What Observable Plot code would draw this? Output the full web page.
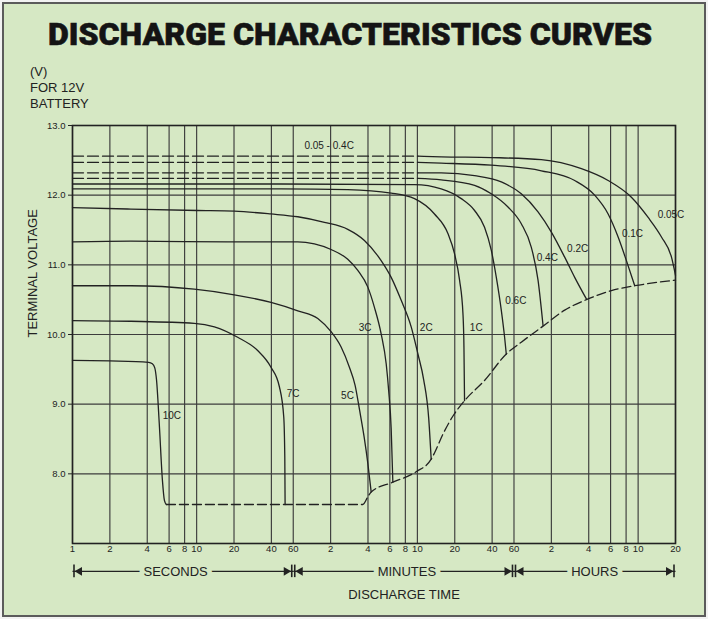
<!DOCTYPE html>
<html><head><meta charset="utf-8">
<script src="https://cdn.jsdelivr.net/npm/d3@7"></script>
<script src="https://cdn.jsdelivr.net/npm/@observablehq/plot@0.6"></script>
<style>
html,body{margin:0;padding:0;background:#fff;}
#page{position:relative;width:708px;height:619px;overflow:hidden;background:#f2f2f2;}
#panel{position:absolute;left:2px;top:2px;width:704px;height:615px;box-sizing:border-box;border:2px solid #5b5b5b;background:#d6e8c4;}
#title{position:absolute;left:0;top:0;}
#vlabel{position:absolute;left:30px;top:64px;font:13px 'Liberation Sans',Arial,sans-serif;color:#222;line-height:16px;}
#chart{position:absolute;left:0;top:112px;}
</style></head><body>
<div id="page">
<div id="panel"></div>
<svg id="title" width="708" height="60"><text x="350" y="45" text-anchor="middle" textLength="604" lengthAdjust="spacingAndGlyphs" font-family="Roboto, 'Liberation Sans', Arial, sans-serif" font-weight="900" font-size="31" fill="#141414" stroke="#141414" stroke-width="0.6">DISCHARGE CHARACTERISTICS CURVES</text></svg>
<div id="vlabel">(V)<br>FOR 12V<br>BATTERY</div>
<div id="chart"></div>
</div>
<script>
// ---- axis ticks ----
const tickTimes = [1,2,4,6,8,10,20,40,60,120,240,360,480,600,1200,2400,3600,7200,14400,21600,28800,36000,72000];
const tickLabels = ["1","2","4","6","8","10","20","40","60","2","4","6","8","10","20","40","60","2","4","6","8","10","20"];
const voltTicks = [8,9,10,11,12,13];
const voltGrid = [8,9,10,11,12];

// ---- discharge curves: time (seconds), terminal voltage (V) ----
const t10C = [1, 2, 4.1, 4.4, 4.6, 4.75, 5.0, 5.3, 5.5, 5.7];
const v10C = [9.63, 9.62, 9.60, 9.58, 9.52, 9.35, 8.72, 7.91, 7.62, 7.56];
const t7C = [1, 2.95, 9.56, 13.9, 21.4, 31.0, 39.7, 46.4, 50.3, 51.3, 51.5, 51.6];
const v7C = [10.20, 10.19, 10.16, 10.11, 9.96, 9.77, 9.53, 9.25, 8.82, 8.24, 7.76, 7.56];
const t5C = [1, 2.95, 9.56, 20.1, 39.7, 65.3, 94.6, 121, 145.8, 170, 189, 205.6, 223.4, 239.3, 254.6];
const v5C = [10.70, 10.70, 10.65, 10.57, 10.46, 10.34, 10.23, 10.04, 9.82, 9.53, 9.27, 8.91, 8.53, 8.15, 7.74];
const t3C = [1, 2.95, 18.9, 65.3, 88.8, 121, 165, 198.8, 239.3, 270.5, 306.4, 336.4, 352, 369, 380.7];
const v3C = [11.33, 11.34, 11.33, 11.33, 11.30, 11.22, 11.08, 10.92, 10.68, 10.39, 10.01, 9.58, 9.20, 8.65, 7.88];
const t2C = [1, 2.95, 10.2, 20.1, 39.7, 65.3, 107, 165, 224.7, 306.4, 369, 444.4, 535, 606, 674.5, 740, 775];
const v2C = [11.82, 11.80, 11.78, 11.77, 11.73, 11.69, 11.61, 11.51, 11.35, 11.06, 10.82, 10.49, 10.11, 9.72, 9.35, 8.80, 8.21];
const t1C = [1, 47.9, 165, 369, 568.8, 824, 1057, 1195, 1312, 1397, 1423, 1439];
const v1C = [12.09, 12.09, 12.08, 12.03, 11.95, 11.73, 11.45, 11.16, 10.78, 10.30, 9.82, 9.05];
const t06C = [1, 47.9, 568.8, 933, 1353, 1733, 2085, 2362, 2594, 2844, 3025, 3121];
const v06C = [12.16, 12.16, 12.15, 12.09, 11.95, 11.78, 11.54, 11.21, 10.82, 10.35, 9.96, 9.72];
const t04C = [1, 606, 933, 1733, 2362, 3221, 4123, 4966, 5623, 6170];
const v04C = [12.24, 12.24, 12.22, 12.14, 12.02, 11.83, 11.59, 11.25, 10.78, 10.13];
const t02C = [1, 606, 933, 1733, 2844, 4123, 5623, 7200, 9220, 11100, 13790];
const v02C = [12.32, 12.32, 12.32, 12.28, 12.19, 12.02, 11.76, 11.47, 11.11, 10.82, 10.51];
const t01C = [1, 606, 933, 2362, 5980, 11100, 16080, 20640, 24840, 28970, 33810];
const v01C = [12.47, 12.47, 12.46, 12.43, 12.35, 12.21, 12.00, 11.73, 11.40, 11.06, 10.70];
const t005C = [1, 606, 933, 2362, 5980, 12570, 20640, 31770, 43350, 55500, 66830, 72000];
const v005C = [12.56, 12.56, 12.55, 12.54, 12.51, 12.38, 12.21, 11.97, 11.68, 11.40, 11.11, 10.85];
// end-of-discharge voltage (dashed)
const tEnd = [5.71, 50, 200, 218, 239.3, 254.6, 380.7, 587, 775, 824, 964, 1161, 1439, 2085, 3121, 4123, 6170, 9220, 13790, 21940, 33810, 52220, 72000];
const vEnd = [7.56, 7.56, 7.56, 7.56, 7.67, 7.74, 7.88, 8.03, 8.21, 8.30, 8.57, 8.83, 9.05, 9.34, 9.72, 9.89, 10.12, 10.35, 10.50, 10.63, 10.70, 10.75, 10.78];
// times up to which the low-rate curves are drawn dashed
const dashedUntil = 606;
const dashedRates = ["0.4C","0.2C","0.1C","0.05C"];

// ---- curve labels ----
const labelText = ["0.05 - 0.4C","0.05C","0.1C","0.2C","0.4C","0.6C","1C","2C","3C","5C","7C","10C"];
const labelTime = [116.7, 66220, 32400, 11730, 6683, 3724, 1788, 707, 227.7, 164, 59.8, 6.32];
const labelVolt = [12.71, 11.72, 11.44, 11.23, 11.10, 10.49, 10.10, 10.10, 10.10, 9.12, 9.15, 8.84];

// ---- time-unit bands under the axis ----
const unitNames = ["SECONDS","MINUTES","HOURS"];
const unitStart = [1, 60, 3600];
const unitEnd = [60, 3600, 72000];
const unitLabelTime = [6.77, 494, 16080];

const curves = [
  ["10C", t10C, v10C], ["7C", t7C, v7C], ["5C", t5C, v5C], ["3C", t3C, v3C],
  ["2C", t2C, v2C], ["1C", t1C, v1C], ["0.6C", t06C, v06C], ["0.4C", t04C, v04C],
  ["0.2C", t02C, v02C], ["0.1C", t01C, v01C], ["0.05C", t005C, v005C]
];
const rows = curves.flatMap(([rate, ts, vs]) => ts.map((t, i) => ({rate, t, v: vs[i]})));
const solidRows = rows.filter(d => !(dashedRates.includes(d.rate) && d.t < dashedUntil));
const dashRows = rows.filter(d => dashedRates.includes(d.rate) && d.t <= dashedUntil);
const endRows = tEnd.map((t, i) => ({t, v: vEnd[i]}));
const labels = labelText.map((s, i) => ({s, t: labelTime[i], v: labelVolt[i]}));
const units = unitNames.map((s, i) => ({s, a: unitStart[i], b: unitEnd[i], m: unitLabelTime[i]}));
const xTicks = tickTimes.map((t, i) => ({t, s: tickLabels[i]}));

const ink = "#222";
const bg = "#d6e8c4";
const grid = "#3c3c3c";
const bandY = 6.6;

const chart = Plot.plot({
  width: 708,
  height: 505,
  marginLeft: 72,
  marginRight: 33,
  marginTop: 13,
  marginBottom: 74,
  style: {background: "transparent", fontFamily: "'Liberation Sans', Arial, Helvetica, sans-serif", color: ink, overflow: "visible"},
  x: {type: "log", domain: [1, 72000], label: null, axis: null},
  y: {domain: [7, 13], label: null},
  marks: [
    Plot.ruleX(tickTimes, {stroke: grid, strokeWidth: 1.15}),
    Plot.ruleY(voltGrid, {stroke: grid, strokeWidth: 1.15}),
    Plot.frame({stroke: ink, strokeWidth: 1.6}),
    Plot.text(xTicks, {x: "t", text: "s", frameAnchor: "bottom", dy: 8, fontSize: 9.5, fill: ink}),
    Plot.axisY(voltTicks, {tickFormat: d => d.toFixed(1), tickSize: 4, tickPadding: 3, fontSize: 9.5, label: null, stroke: ink}),
    Plot.text(["TERMINAL VOLTAGE"], {frameAnchor: "left", rotate: -90, dx: -40, dy: 3, fontSize: 13, fill: ink}),
    Plot.line(dashRows, {x: "t", y: "v", z: "rate", stroke: ink, strokeWidth: 1.3, strokeDasharray: "11,4"}),
    Plot.line(solidRows, {x: "t", y: "v", z: "rate", stroke: ink, strokeWidth: 1.3, curve: "monotone-x"}),
    Plot.line(endRows, {x: "t", y: "v", stroke: ink, strokeWidth: 1.3, strokeDasharray: "9,4", curve: "monotone-x"}),
    Plot.text(labels, {x: "t", y: "v", text: "s", fontSize: 10, fill: ink}),
    // time-unit bands
    Plot.link(units, {x1: "a", x2: "b", y1: bandY, y2: bandY, stroke: ink, strokeWidth: 1.2}),
    Plot.ruleX(units, {x: "a", y1: bandY - 0.09, y2: bandY + 0.09, dx: 1.5, stroke: ink, strokeWidth: 1.6}),
    Plot.ruleX(units, {x: "b", y1: bandY - 0.09, y2: bandY + 0.09, dx: -1.5, stroke: ink, strokeWidth: 1.6}),
    Plot.dot(units, {x: "a", y: bandY, symbol: "triangle", r: 3.2, rotate: -90, dx: 7, fill: ink, stroke: "none"}),
    Plot.dot(units, {x: "b", y: bandY, symbol: "triangle", r: 3.2, rotate: 90, dx: -7, fill: ink, stroke: "none"}),
    Plot.text(units, {x: "m", y: bandY, text: "s", fontSize: 13, fill: ink, stroke: bg, strokeWidth: 10}),
    Plot.text(["DISCHARGE TIME"], {frameAnchor: "bottom", dx: 30, dy: 55, fontSize: 13, fill: ink})
  ]
});
document.getElementById("chart").appendChild(chart);
</script>
</body></html>
